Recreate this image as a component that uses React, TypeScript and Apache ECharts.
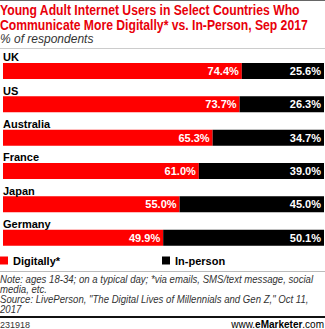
import React, { useEffect, useRef } from "react";
import * as echarts from "echarts";

const categories = ["UK", "US", "Australia", "France", "Japan", "Germany"];
const digitally = [74.4, 73.7, 65.3, 61.0, 55.0, 49.9];
const inPerson = [25.6, 26.3, 34.7, 39.0, 45.0, 50.1];
const seriesNames = ["Digitally*", "In-person"];

const FONT = "'Liberation Sans', Arial, sans-serif";

export default function App() {
  const ref = useRef<HTMLDivElement>(null);
  useEffect(() => {
    if (!ref.current) return;
    const chart = echarts.init(ref.current, undefined, { renderer: "svg" });
    const valueLabel = {
      show: true,
      position: "insideRight",
      distance: 3,
      color: "#fff",
      fontFamily: FONT,
      fontWeight: "bold",
      fontSize: 11,
      formatter: (p: any) => Number(p.value).toFixed(1) + "%",
    };
    const legendText = { color: "#000", fontWeight: "bold", fontSize: 11, fontFamily: FONT };
    chart.setOption({
      animation: false,
      backgroundColor: "#fff",
      textStyle: { fontFamily: FONT },
      legend: [
        {
          data: [seriesNames[0]],
          left: 0,
          top: 255,
          padding: 0,
          icon: "rect",
          itemWidth: 8,
          itemHeight: 8,
          itemGap: 4,
          textStyle: legendText,
        },
        {
          data: [seriesNames[1]],
          left: 162,
          top: 255,
          padding: 0,
          icon: "rect",
          itemWidth: 8,
          itemHeight: 8,
          itemGap: 4,
          textStyle: legendText,
        },
      ],
      grid: { left: 0, right: 1, top: 54.3, height: 200, containLabel: false },
      xAxis: {
        type: "value",
        min: 0,
        max: 100,
        show: false,
      },
      yAxis: {
        type: "category",
        data: categories,
        inverse: true,
        axisLine: { show: false },
        axisTick: { show: false },
        splitLine: { show: false },
        axisLabel: {
          inside: true,
          margin: 0,
          align: "left",
          verticalAlign: "bottom",
          padding: [0, 0, 8, 0],
          color: "#000",
          fontWeight: "bold",
          fontSize: 11,
          fontFamily: FONT,
        },
        z: 5,
      },
      series: [
        {
          name: seriesNames[0],
          type: "bar",
          stack: "total",
          data: digitally,
          barWidth: 16,
          itemStyle: { color: "#ff0000" },
          label: valueLabel,
        },
        {
          name: seriesNames[1],
          type: "bar",
          stack: "total",
          data: inPerson,
          barWidth: 16,
          itemStyle: { color: "#000000" },
          label: valueLabel,
        },
      ],
      graphic: [
        { type: "rect", x: 0, y: 0, shape: { width: 325, height: 1 }, style: { fill: "#666" } },
        {
          type: "text",
          x: 0,
          y: 3,
          scaleX: 0.87,
          style: {
            text: "Young Adult Internet Users in Select Countries Who\nCommunicate More Digitally* vs. In-Person, Sep 2017",
            font: "bold 14px " + FONT,
            lineHeight: 15,
            fill: "#e8000a",
            verticalAlign: "top",
          },
        },
        {
          type: "text",
          x: 0,
          y: 33,
          style: {
            text: "% of respondents",
            font: "italic 12px " + FONT,
            fill: "#333",
            verticalAlign: "top",
          },
        },
        { type: "rect", x: 0, y: 48, shape: { width: 325, height: 1 }, style: { fill: "#ccc" } },
        { type: "rect", x: 0, y: 271, shape: { width: 325, height: 1 }, style: { fill: "#bbb" } },
        {
          type: "text",
          x: 0,
          y: 275,
          scaleX: 0.96,
          style: {
            text:
              "Note: ages 18-34; on a typical day; *via emails, SMS/text message, social\nmedia, etc.\nSource: LivePerson, \"The Digital Lives of Millennials and Gen Z,\" Oct 11,\n2017",
            font: "italic 10px " + FONT,
            lineHeight: 9.8,
            fill: "#333",
            verticalAlign: "top",
          },
        },
        { type: "rect", x: 0, y: 316, shape: { width: 325, height: 2 }, style: { fill: "#111" } },
        {
          type: "text",
          x: 0,
          y: 320,
          style: { text: "231918", font: "9px " + FONT, fill: "#333", verticalAlign: "top" },
        },
        {
          type: "text",
          right: 1,
          top: 319,
          style: {
            text: "{a|www.}{e|e}{b|Marketer}{a|.com}",
            rich: {
              a: { fontSize: 10, fontFamily: FONT, color: "#555" },
              e: { fontSize: 10, fontFamily: FONT, fontWeight: "bold", color: "#e8000a" },
              b: { fontSize: 10, fontFamily: FONT, fontWeight: "bold", color: "#555" },
            },
          },
        },
      ],
    });
    return () => chart.dispose();
  }, []);
  return (
    <div
      ref={ref}
      style={{ position: "fixed", left: 0, top: 0, width: 325, height: 329 }}
    />
  );
}
